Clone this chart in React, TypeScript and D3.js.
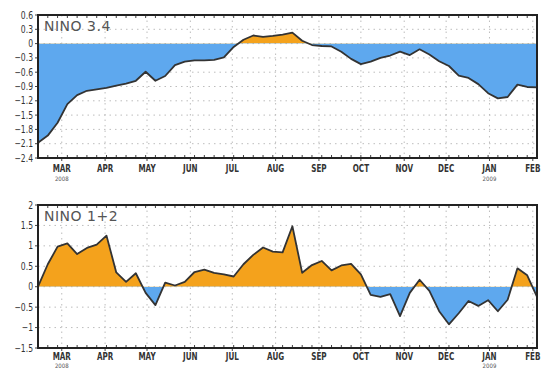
import * as d3 from "d3";

// weekly values, starting Wed 13 Feb 2008
const startDate = new Date(2008, 1, 13);
const nino34 = [
  -2.08, -1.93, -1.66, -1.27, -1.08, -0.99, -0.96, -0.93, -0.88, -0.84,
  -0.78, -0.59, -0.78, -0.68, -0.45, -0.38, -0.35, -0.35, -0.34, -0.29,
  -0.07, 0.08, 0.17, 0.14, 0.16, 0.19, 0.23, 0.06, -0.03, -0.05,
  -0.06, -0.17, -0.32, -0.43, -0.38, -0.3, -0.25, -0.17, -0.24, -0.12,
  -0.23, -0.37, -0.47, -0.67, -0.72, -0.85, -1.04, -1.15, -1.12, -0.86,
  -0.91, -0.92,
];
const nino12 = [
  0.0, 0.55, 0.98, 1.06, 0.8, 0.95, 1.03, 1.25, 0.35, 0.12,
  0.33, -0.15, -0.45, 0.1, 0.03, 0.12, 0.36, 0.42, 0.34, 0.3,
  0.25, 0.55, 0.78, 0.96, 0.86, 0.84, 1.48, 0.34, 0.53, 0.63,
  0.4, 0.52, 0.56, 0.3, -0.2, -0.25, -0.18, -0.72, -0.15, 0.17,
  -0.1, -0.6, -0.92, -0.65, -0.35, -0.47, -0.33, -0.6, -0.32, 0.45,
  0.28, -0.25,
];
const monthLabels = ["MAR", "APR", "MAY", "JUN", "JUL", "AUG", "SEP", "OCT", "NOV", "DEC", "JAN", "FEB"];
const yearLabels: Record<string, string> = { MAR: "2008", JAN: "2009" };
const ticks34 = [0.6, 0.3, 0, -0.3, -0.6, -0.9, -1.2, -1.5, -1.8, -2.1, -2.4];
const ticks12 = [2, 1.5, 1, 0.5, 0, -0.5, -1, -1.5];

const W = 545,
  H = 370;
const left = 38,
  right = 537;
const font = "DejaVu Sans Condensed, DejaVu Sans, sans-serif";

const dates = nino34.map((_, i) => d3.timeDay.offset(startDate, i * 7));
const x = d3
  .scaleTime()
  .domain([dates[0], dates[dates.length - 1]])
  .range([left, right]);
const months = d3.timeMonth.range(new Date(2008, 2, 1), new Date(2009, 1, 2));

const Panel = ({ id, title, values, ticks, top, bottom, labelDy, yearDy }) => {
  const y = d3
    .scaleLinear()
    .domain([ticks[ticks.length - 1], ticks[0]])
    .range([bottom, top]);
  const y0 = y(0);
  const area = d3
    .area<number>()
    .x((_, i) => x(dates[i]))
    .y0(y0)
    .y1((d) => y(d));
  const line = d3
    .line<number>()
    .x((_, i) => x(dates[i]))
    .y((d) => y(d));

  return (
    <g>
      <defs>
        <clipPath id={id + "-pos"}>
          <rect x={left} y={top} width={right - left} height={y0 - top} />
        </clipPath>
        <clipPath id={id + "-neg"}>
          <rect x={left} y={y0} width={right - left} height={bottom - y0} />
        </clipPath>
      </defs>
      {/* dotted grid */}
      {ticks.map((t) => (
        <line key={"h" + t} x1={left} x2={right} y1={y(t)} y2={y(t)} stroke="#bdbdbd" strokeWidth={1} strokeDasharray="1.5,4" />
      ))}
      {months.map((m, i) => (
        <line key={"v" + i} x1={x(m)} x2={x(m)} y1={top} y2={bottom} stroke="#bdbdbd" strokeWidth={1} strokeDasharray="1.5,4" />
      ))}
      <path d={area(values)} fill="#f4a21c" clipPath={`url(#${id}-pos)`} />
      <path d={area(values)} fill="#5ea8ee" clipPath={`url(#${id}-neg)`} />
      <path d={line(values)} fill="none" stroke="#333" strokeWidth={1.8} strokeLinejoin="round" />
      {/* weekly ticks on top and bottom */}
      {dates.map((d, i) => (
        <g key={"m" + i}>
          <line x1={x(d)} x2={x(d)} y1={top} y2={top + 3} stroke="#444" strokeWidth={1} />
          <line x1={x(d)} x2={x(d)} y1={bottom} y2={bottom - 3} stroke="#444" strokeWidth={1} />
        </g>
      ))}
      {months.map((m, i) => (
        <line key={"mt" + i} x1={x(m)} x2={x(m)} y1={bottom} y2={bottom + 3} stroke="#444" strokeWidth={1} />
      ))}
      {ticks.map((t) => (
        <g key={"yt" + t}>
          <line x1={left - 3} x2={left} y1={y(t)} y2={y(t)} stroke="#444" strokeWidth={1} />
          <g transform={`translate(33,${y(t) + 3.5}) scale(0.85,1)`}>
            <text textAnchor="end" fontSize={10} fill="#333" fontFamily={font}>
              {String(t).replace("-", "\u2212")}
            </text>
          </g>
        </g>
      ))}
      <rect x={left} y={top} width={right - left} height={bottom - top} fill="none" stroke="#222" strokeWidth={2} />
      {months.map((m, i) => {
        const lab = monthLabels[i];
        return (
          <g key={"ml" + i} transform={`translate(${x(m)},${bottom + labelDy})`}>
            <text textAnchor="middle" fontSize={10} fill="#333" fontFamily={font} fontWeight="bold" transform="scale(0.8,1)">
              {lab}
            </text>
            {yearLabels[lab] && (
              <text y={yearDy} textAnchor="middle" fontSize={6} fill="#555" fontFamily={font}>
                {yearLabels[lab]}
              </text>
            )}
          </g>
        );
      })}
      <text x={44} y={top + 16} fontSize={14} fill="#555" fontFamily="DejaVu Sans, sans-serif" letterSpacing={0.5}>
        {title}
      </text>
    </g>
  );
};

export default function App() {
  return (
    <svg width={W} height={H} style={{ position: "absolute", left: 0, top: 0, background: "#fff" }}>
      <rect width={W} height={H} fill="#fff" />
      <Panel id="p34" title="NINO 3.4" values={nino34} ticks={ticks34} top={15} bottom={158} labelDy={14} yearDy={9} />
      <Panel id="p12" title="NINO 1+2" values={nino12} ticks={ticks12} top={205} bottom={348} labelDy={12} yearDy={8} />
    </svg>
  );
}
